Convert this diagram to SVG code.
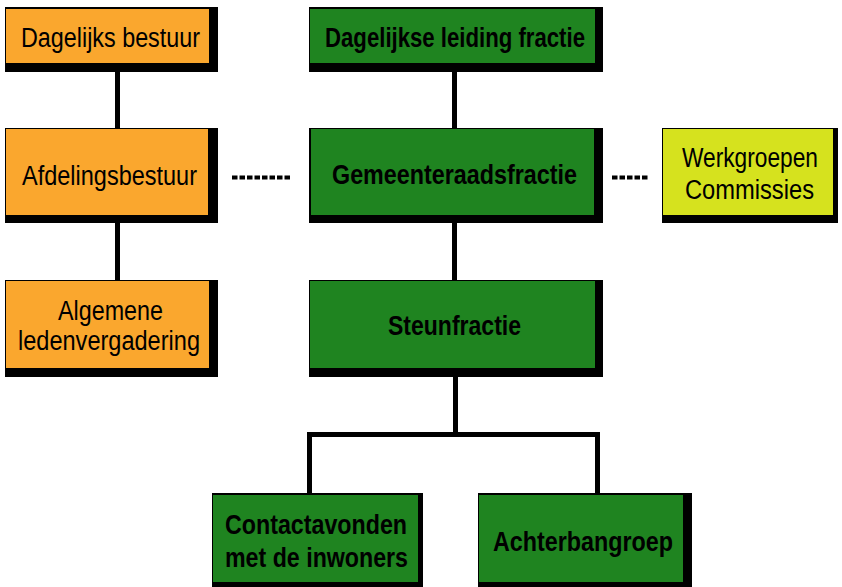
<svg xmlns="http://www.w3.org/2000/svg" width="842" height="587" viewBox="0 0 842 587">
<style>
.sh{fill:#000}
.or{fill:#FAA72E}
.gr{fill:#1F8420}
.li{fill:#D6E21E}
text{font-family:"Liberation Sans Narrow","Liberation Sans",Arial,sans-serif;font-size:27px;fill:#000}
.b{font-weight:bold}
.c{stroke:#000;stroke-width:5;fill:none}
.d{stroke:#000;stroke-width:4;stroke-dasharray:5.5 2;fill:none}
</style>
<rect width="842" height="587" fill="#fff"/>
<g id="connectors">
<line class="c" x1="117.5" y1="70" x2="117.5" y2="130"/>
<line class="c" x1="117.5" y1="220" x2="117.5" y2="283"/>
<line class="c" x1="454.5" y1="70" x2="454.5" y2="130"/>
<line class="c" x1="454.5" y1="220" x2="454.5" y2="283"/>
<polyline class="c" points="309.5,497 309.5,434.5 597.5,434.5 597.5,497"/>
<line class="c" x1="455.5" y1="375" x2="455.5" y2="434"/>
<line class="d" x1="232" y1="177.5" x2="292" y2="177.5"/>
<line class="d" x1="612" y1="177.5" x2="648" y2="177.5"/>
</g>
<g id="dagelijks-bestuur">
<rect class="sh" x="5" y="7" width="213" height="65"/>
<rect class="or" x="6" y="9" width="203" height="54"/>
<text x="21" y="47" textLength="179" lengthAdjust="spacingAndGlyphs">Dagelijks bestuur</text>
</g>
<g id="dagelijkse-leiding">
<rect class="sh" x="309" y="7" width="294" height="65"/>
<rect class="gr" x="310" y="9" width="285" height="54"/>
<text class="b" x="325" y="47" textLength="260" lengthAdjust="spacingAndGlyphs">Dagelijkse leiding fractie</text>
</g>
<g id="afdelingsbestuur">
<rect class="sh" x="5" y="128" width="213" height="95"/>
<rect class="or" x="6" y="129" width="202" height="86"/>
<text x="22" y="185" textLength="175" lengthAdjust="spacingAndGlyphs">Afdelingsbestuur</text>
</g>
<g id="gemeenteraadsfractie">
<rect class="sh" x="309" y="128" width="294" height="95"/>
<rect class="gr" x="311" y="129" width="283" height="86"/>
<text class="b" x="332" y="184" textLength="245" lengthAdjust="spacingAndGlyphs">Gemeenteraadsfractie</text>
</g>
<g id="werkgroepen">
<rect class="sh" x="662" y="128" width="176" height="95"/>
<rect class="li" x="663" y="129" width="170" height="86"/>
<text x="682" y="167" textLength="136" lengthAdjust="spacingAndGlyphs">Werkgroepen</text>
<text x="685" y="199" textLength="129" lengthAdjust="spacingAndGlyphs">Commissies</text>
</g>
<g id="algemene-ledenvergadering">
<rect class="sh" x="5" y="280" width="213" height="97"/>
<rect class="or" x="6" y="281" width="203" height="87"/>
<text x="58" y="320" textLength="105" lengthAdjust="spacingAndGlyphs">Algemene</text>
<text x="18" y="350" textLength="182" lengthAdjust="spacingAndGlyphs">ledenvergadering</text>
</g>
<g id="steunfractie">
<rect class="sh" x="309" y="280" width="294" height="97"/>
<rect class="gr" x="310" y="281" width="285" height="87"/>
<text class="b" x="388" y="335" textLength="133" lengthAdjust="spacingAndGlyphs">Steunfractie</text>
</g>
<g id="contactavonden">
<rect class="sh" x="212" y="493" width="211" height="94"/>
<rect class="gr" x="213" y="495" width="205" height="87"/>
<text class="b" x="225" y="534" textLength="182" lengthAdjust="spacingAndGlyphs">Contactavonden</text>
<text class="b" x="225" y="567" textLength="183" lengthAdjust="spacingAndGlyphs">met de inwoners</text>
</g>
<g id="achterbangroep">
<rect class="sh" x="478" y="493" width="214" height="94"/>
<rect class="gr" x="479" y="495" width="204" height="87"/>
<text class="b" x="493" y="551" textLength="180" lengthAdjust="spacingAndGlyphs">Achterbangroep</text>
</g>
</svg>
